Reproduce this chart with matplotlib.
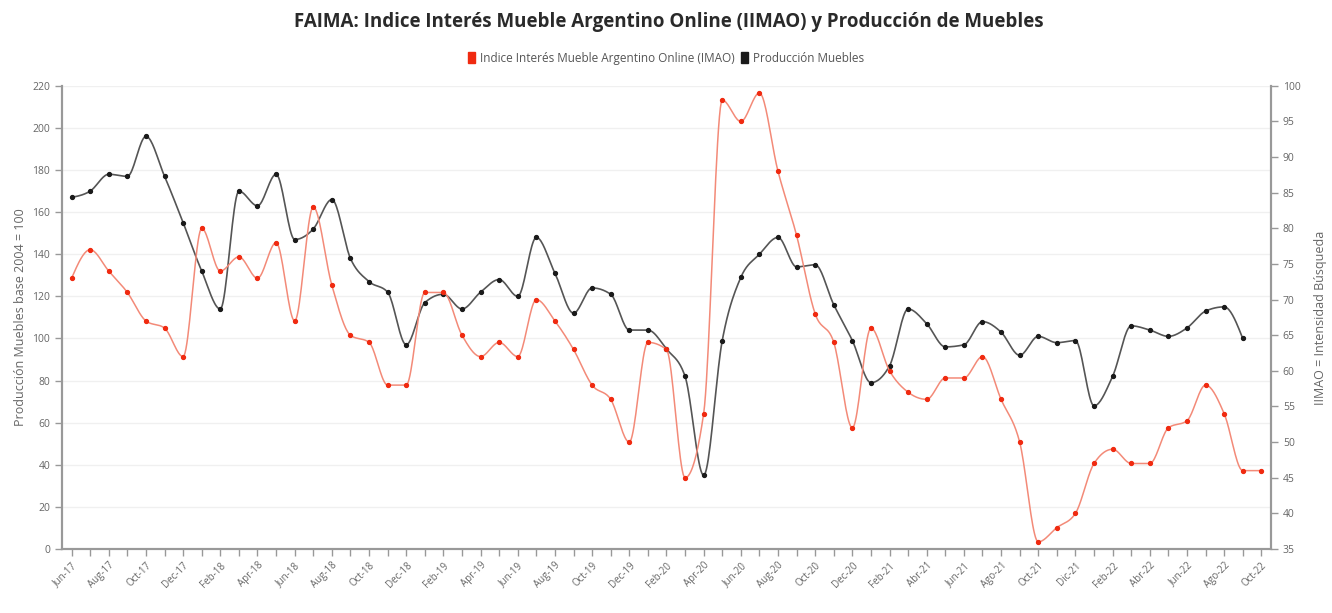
import numpy as np
import matplotlib
matplotlib.use("Agg")
import matplotlib.pyplot as plt
from matplotlib.patches import Patch

plt.rcParams['font.family'] = ['Open Sans', 'DejaVu Sans']

# months Jun-17 .. Oct-22
months = ["Jun-17", "Jul-17", "Aug-17", "Sep-17", "Oct-17", "Nov-17", "Dec-17",
          "Jan-18", "Feb-18", "Mar-18", "Apr-18", "May-18", "Jun-18", "Jul-18", "Aug-18", "Sep-18", "Oct-18", "Nov-18", "Dec-18",
          "Jan-19", "Feb-19", "Mar-19", "Apr-19", "May-19", "Jun-19", "Jul-19", "Aug-19", "Sep-19", "Oct-19", "Nov-19", "Dec-19",
          "Jan-20", "Feb-20", "Mar-20", "Apr-20", "May-20", "Jun-20", "Jul-20", "Aug-20", "Sep-20", "Oct-20", "Nov-20", "Dec-20",
          "Jan-21", "Feb-21", "Mar-21", "Abr-21", "May-21", "Jun-21", "Jul-21", "Ago-21", "Sep-21", "Oct-21", "Nov-21", "Dic-21",
          "Ene-22", "Feb-22", "Mar-22", "Abr-22", "May-22", "Jun-22", "Jul-22", "Ago-22", "Sep-22", "Oct-22"]

# Producción Muebles (base 2004 = 100), left axis; no value for Oct-22
produccion = [167, 170, 178, 177, 196, 177, 155,
              132, 114, 170, 163, 178, 147, 152, 166, 138, 127, 122, 97,
              117, 121, 114, 122, 128, 120, 148, 131, 112, 124, 121, 104,
              104, 95, 82, 35, 99, 129, 140, 148, 134, 135, 116, 99,
              79, 87, 114, 107, 96, 97, 108, 103, 92, 101, 98, 99,
              68, 82, 106, 104, 101, 105, 113, 115, 100]

# IIMAO (intensidad de búsqueda), right axis
iimao = [73, 77, 74, 71, 67, 66, 62,
         80, 74, 76, 73, 78, 67, 83, 72, 65, 64, 58, 58,
         71, 71, 65, 62, 64, 62, 70, 67, 63, 58, 56, 50,
         64, 63, 45, 54, 98, 95, 99, 88, 79, 68, 64, 52,
         66, 60, 57, 56, 59, 59, 62, 56, 50, 36, 38, 40,
         47, 49, 47, 47, 52, 53, 58, 54, 46, 46]


def monotone_x(x, y, n=20):
    # d3 curveMonotoneX style path between the data points
    x = np.asarray(x, float)
    y = np.asarray(y, float)
    h = np.diff(x)
    s = np.diff(y) / h
    m = np.zeros_like(y)
    for i in range(1, len(y) - 1):
        p = (s[i - 1] * h[i] + s[i] * h[i - 1]) / (h[i - 1] + h[i])
        m[i] = (np.sign(s[i - 1]) + np.sign(s[i])) * min(abs(s[i - 1]), abs(s[i]), 0.5 * abs(p))
    m[0] = (3 * s[0] - m[1]) / 2
    m[-1] = (3 * s[-1] - m[-2]) / 2
    xs, ys = [], []
    for i in range(len(h)):
        t = np.linspace(0, 1, n, endpoint=False)
        h00 = 2 * t**3 - 3 * t**2 + 1
        h10 = t**3 - 2 * t**2 + t
        h01 = -2 * t**3 + 3 * t**2
        h11 = t**3 - t**2
        xs.append(x[i] + t * h[i])
        ys.append(h00 * y[i] + h10 * h[i] * m[i] + h01 * y[i + 1] + h11 * h[i] * m[i + 1])
    xs.append([x[-1]])
    ys.append([y[-1]])
    return np.concatenate(xs), np.concatenate(ys)


red = '#f02a10'
red_line = '#f38a78'
black = '#1a1a1a'
black_line = '#555555'
grey_txt = '#666666'
axis_col = '#999999'

fig = plt.figure(figsize=(13.32, 6.13), dpi=100)
ax = fig.add_axes([0.0465, 0.1044, 0.9077, 0.7556])
ax2 = ax.twinx()

x_all = np.arange(len(months))
x_prod = np.arange(len(produccion))

sx, sy = monotone_x(x_prod, produccion)
ax.plot(sx, sy, color=black_line, lw=1.2, zorder=3)
ax.plot(x_prod, produccion, 'o', color=black, ms=2.8, zorder=4)

rx, ry = monotone_x(x_all, iimao)
ax2.plot(rx, ry, color=red_line, lw=1.1, zorder=3)
ax2.plot(x_all, iimao, 'o', color=red, ms=2.8, zorder=4)

ax.set_xlim(-0.52, len(months) - 1 + 0.52)
ax.set_ylim(0, 220)
ax2.set_ylim(35, 100)
ax.set_yticks(np.arange(0, 221, 20))
ax2.set_yticks(np.arange(35, 101, 5))
ax.grid(axis='y', color='#f0f0f0', lw=1)
ax.set_axisbelow(True)

ax.set_xticks(x_all, minor=True)
ax.set_xticks(x_all[::2])
ax.set_xticklabels(months[::2], rotation=45, ha='right', rotation_mode='anchor')

for a in (ax, ax2):
    a.spines['top'].set_visible(False)
    for side in ('left', 'right', 'bottom'):
        a.spines[side].set_color(axis_col)
        a.spines[side].set_linewidth(1.5)
    a.tick_params(axis='both', which='both', colors=axis_col, labelcolor=grey_txt, labelsize=7.5, length=5, width=1)
ax.tick_params(axis='x', which='major', labelsize=7, pad=3)
ax.tick_params(axis='x', which='minor', length=5)

ax.set_ylabel('Producción Muebles base 2004 = 100', color=grey_txt, fontsize=9, labelpad=4)
ax2.set_ylabel('IIMAO = Intensidad Búsqueda', color=grey_txt, fontsize=9, labelpad=10)

fig.text(0.502, 0.964, 'FAIMA: Indice Interés Mueble Argentino Online (IIMAO) y Producción de Muebles',
         ha='center', va='center', fontsize=13.5, fontweight='bold', color='#2a2a2a')

handles = [Patch(color=red, label='Indice Interés Mueble Argentino Online (IMAO)'),
           Patch(color=black, label='Producción Muebles')]
fig.legend(handles=handles, loc='center', bbox_to_anchor=(0.5, 0.905), ncol=2, frameon=False,
           fontsize=8.5, handlelength=0.6, handleheight=1.1, handletextpad=0.4, columnspacing=0.6,
           labelcolor='#555555')

fig.savefig('out.png', dpi=100, facecolor='white')
